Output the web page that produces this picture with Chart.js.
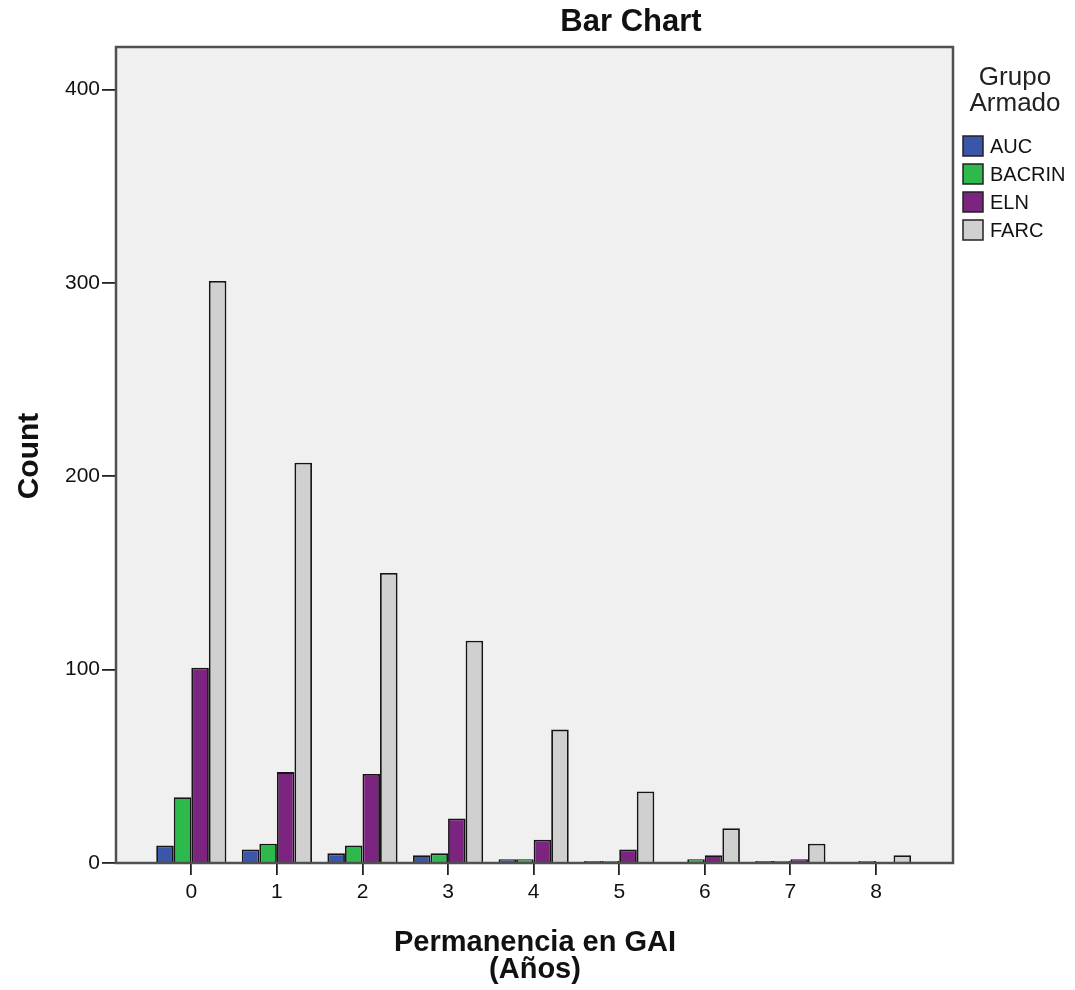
<!DOCTYPE html>
<html><head><meta charset="utf-8">
<script src="https://cdn.jsdelivr.net/npm/chart.js@4"></script>
<style>html,body{margin:0;padding:0;background:#fff}#wrap{width:1075px;height:990px}</style>
</head><body><div id="wrap"><canvas id="c" width="1075" height="990"></canvas></div>
<script>
const categories = [0,1,2,3,4,5,6,7,8];
const seriesNames = ["AUC","BACRIN","ELN","FARC"];
const auc    = [9,7,5,4,2,1,0,1,0];
const bacrin = [34,10,9,5,2,1,2,1,1];
const eln    = [101,47,46,23,12,7,4,2,0];
const farc   = [301,207,150,115,69,37,18,10,4];
const yTicks = [0,100,200,300,400];
const colors = ["#3b56a9","#2db94b","#7b2580","#d0d0d0"];
const titleText = "Bar Chart";
const yTitle = "Count";
const xTitle = ["Permanencia en GAI","(Años)"];
const legendTitle = ["Grupo","Armado"];

const seriesVals = [auc,bacrin,eln,farc];
const datasets = seriesVals.map((vals,k)=>({
  label: seriesNames[k],
  data: categories.map((c,i)=>({x:c,y:vals[i]})),
  backgroundColor: colors[k],
  borderColor: "#151515",
  borderWidth: 1.8,
  borderSkipped: 'start',
  categoryPercentage: 0.82,
  barPercentage: 1.0
}));

const FONT = "'Liberation Sans', Arial, sans-serif";

const deco = {
  id:'deco',
  beforeDraw(chart){
    const {ctx, chartArea:a} = chart;
    ctx.save();
    ctx.fillStyle = "#f0f0f0";
    ctx.fillRect(a.left,a.top,a.right-a.left,a.bottom-a.top);
    ctx.restore();
  },
  afterDraw(chart){
    const {ctx, chartArea:a} = chart;
    ctx.save();
    ctx.strokeStyle = "#505050";
    ctx.lineWidth = 2.5;
    ctx.strokeRect(a.left,a.top,a.right-a.left,a.bottom-a.top);
    ctx.fillStyle = "#111";
    ctx.font = "bold 31px " + FONT;
    ctx.textAlign = "center"; ctx.textBaseline = "middle";
    ctx.fillText(titleText, 631, 22);
    ctx.save();
    ctx.translate(30, 456);
    ctx.rotate(-Math.PI/2);
    ctx.font = "bold 30px " + FONT;
    ctx.fillText(yTitle, 0, 0);
    ctx.restore();
    ctx.font = "bold 29px " + FONT;
    ctx.fillText(xTitle[0], 535, 943);
    ctx.fillText(xTitle[1], 535, 970);
    ctx.font = "26px " + FONT;
    ctx.fillStyle = "#222";
    ctx.fillText(legendTitle[0], 1015, 78);
    ctx.fillText(legendTitle[1], 1015, 104);
    ctx.font = "20px " + FONT;
    ctx.textAlign = "left";
    seriesNames.forEach((n,k)=>{
      const y = 146 + k*28;
      ctx.fillStyle = colors[k];
      ctx.fillRect(963, y-10, 20, 20);
      ctx.strokeStyle = "#222"; ctx.lineWidth = 1.5;
      ctx.strokeRect(963, y-10, 20, 20);
      ctx.fillStyle = "#111";
      ctx.fillText(n, 990, y+1);
    });
    ctx.restore();
  }
};

new Chart(document.getElementById('c'), {
  type:'bar',
  data:{datasets},
  plugins:[deco],
  options:{
    responsive:false,
    animation:false,
    layout:{padding:{top:47,right:122,left:0,bottom:0}},
    plugins:{legend:{display:false},title:{display:false},tooltip:{enabled:false}},
    scales:{
      x:{
        type:'linear', min:-0.88, max:8.9, offset:false,
        afterBuildTicks(s){ s.ticks = categories.map(v=>({value:v})); },
        afterFit(s){ s.height = 127; },
        grid:{display:true, offset:false, drawOnChartArea:false, drawTicks:true, tickLength:12, color:"#222", lineWidth:1.8},
        border:{display:false},
        ticks:{color:"#111", font:{size:21, family:FONT}, padding:5, callback:v=>String(v)}
      },
      y:{
        type:'linear', min:0, max:422,
        afterBuildTicks(s){ s.ticks = yTicks.map(v=>({value:v})); },
        afterFit(s){ s.width = 116; },
        grid:{display:true, drawOnChartArea:false, drawTicks:true, tickLength:14, color:"#222", lineWidth:1.8},
        border:{display:false},
        ticks:{color:"#111", font:{size:21, family:FONT}, padding:2}
      }
    }
  }
});
</script></body></html>
